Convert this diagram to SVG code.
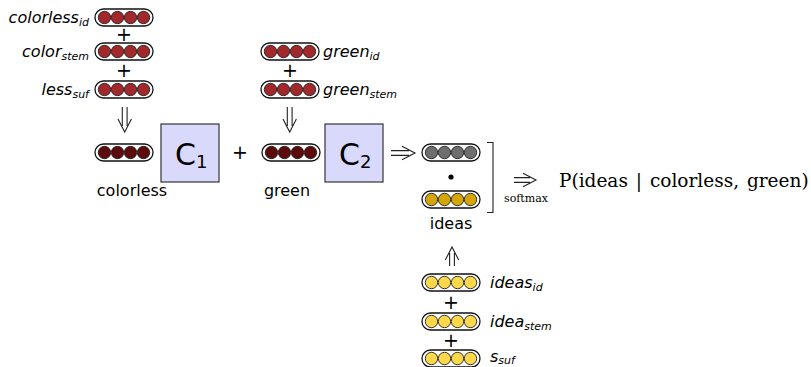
<svg xmlns="http://www.w3.org/2000/svg" xmlns:xlink="http://www.w3.org/1999/xlink" width="811" height="367" viewBox="0 0 811 367">
<style>
.pill{fill:#fff;stroke:#111;stroke-width:1.3}
.c{stroke:#222;stroke-width:0.9}
.red{fill:#a3282b}
.dark{fill:#5c0a0c}
.grey{fill:#6e6e6e}
.gold{fill:#d4a60a}
.yel{fill:#fcd84a}
.lab{font-family:"DejaVu Sans",sans-serif;font-size:16px;font-style:italic;fill:#000}
.sub{font-size:11px}
.plain{font-family:"DejaVu Sans",sans-serif;font-size:16px;fill:#000}
.plus{font-family:"DejaVu Sans",sans-serif;font-size:19px;fill:#000;text-anchor:middle}
.box{fill:#d9d9fc;stroke:#333;stroke-width:1.2}
.arr{fill:none;stroke:#222;stroke-width:1.1}
.serif{font-family:"DejaVu Serif",serif;fill:#000}
</style>
<defs>
<g id="vec">
<rect class="pill" x="0" y="0" width="58" height="17" rx="8.5"/>
</g>
<g id="dots">
<circle class="c" cx="9.5" cy="8.5" r="6.2"/>
<circle class="c" cx="22.5" cy="8.5" r="6.2"/>
<circle class="c" cx="35.5" cy="8.5" r="6.2"/>
<circle class="c" cx="48.5" cy="8.5" r="6.2"/>
</g>
</defs>

<g id="colorless_id">
<use xlink:href="#vec" x="95" y="9"/><use xlink:href="#dots" class="red" x="95" y="9"/>
<text class="lab" x="89" y="23" text-anchor="end">colorless<tspan class="sub" dy="3">id</tspan></text>
</g>
<text class="plus" x="124" y="41">+</text>
<g id="color_stem">
<use xlink:href="#vec" x="95" y="43"/><use xlink:href="#dots" class="red" x="95" y="43"/>
<text class="lab" x="89" y="57" text-anchor="end">color<tspan class="sub" dy="3">stem</tspan></text>
</g>
<text class="plus" x="124" y="77">+</text>
<g id="less_suf">
<use xlink:href="#vec" x="95" y="81"/><use xlink:href="#dots" class="red" x="95" y="81"/>
<text class="lab" x="89" y="95" text-anchor="end">less<tspan class="sub" dy="3">suf</tspan></text>
</g>

<g id="colorless">
<use xlink:href="#vec" x="95" y="144"/><use xlink:href="#dots" class="dark" x="95" y="144"/>
<text class="plain" x="132" y="196" text-anchor="middle">colorless</text>
</g>
<g id="C1">
<rect class="box" x="161" y="124" width="58" height="58"/>
<text x="175" y="165" font-family="DejaVu Sans,sans-serif" font-size="30">C<tspan font-size="18" dy="3">1</tspan></text>
</g>
<text class="plus" x="240" y="159">+</text>

<g id="green_id">
<use xlink:href="#vec" x="261" y="43"/><use xlink:href="#dots" class="red" x="261" y="43"/>
<text class="lab" x="323" y="57">green<tspan class="sub" dy="3">id</tspan></text>
</g>
<text class="plus" x="290" y="77">+</text>
<g id="green_stem">
<use xlink:href="#vec" x="261" y="81"/><use xlink:href="#dots" class="red" x="261" y="81"/>
<text class="lab" x="323" y="95">green<tspan class="sub" dy="3">stem</tspan></text>
</g>

<g id="green">
<use xlink:href="#vec" x="262" y="144"/><use xlink:href="#dots" class="dark" x="262" y="144"/>
<text class="plain" x="287" y="196" text-anchor="middle">green</text>
</g>
<g id="C2">
<rect class="box" x="325" y="124" width="58" height="58"/>
<text x="339" y="165" font-family="DejaVu Sans,sans-serif" font-size="30">C<tspan font-size="18" dy="3">2</tspan></text>
</g>

<g id="ideas_out">
<use xlink:href="#vec" x="422" y="144"/><use xlink:href="#dots" class="grey" x="422" y="144"/>
<circle cx="451" cy="177" r="2.6" fill="#000"/>
<use xlink:href="#vec" x="422" y="191"/><use xlink:href="#dots" class="gold" x="422" y="191"/>
<text class="plain" x="451" y="229" text-anchor="middle">ideas</text>
</g>

<g id="bracket">
<path class="arr" d="M487,142.5 H493 V212.5 H487" stroke-width="1.3"/>
</g>

<g id="ideas_id">
<use xlink:href="#vec" x="422" y="274"/><use xlink:href="#dots" class="yel" x="422" y="274"/>
<text class="lab" x="490" y="288">ideas<tspan class="sub" dy="3">id</tspan></text>
</g>
<text class="plus" x="451" y="309">+</text>
<g id="idea_stem">
<use xlink:href="#vec" x="422" y="313"/><use xlink:href="#dots" class="yel" x="422" y="313"/>
<text class="lab" x="490" y="327">idea<tspan class="sub" dy="3">stem</tspan></text>
</g>
<text class="plus" x="451" y="347">+</text>
<g id="s_suf">
<use xlink:href="#vec" x="422" y="350"/><use xlink:href="#dots" class="yel" x="422" y="350"/>
<text class="lab" x="490" y="362">s<tspan class="sub" dy="2">suf</tspan></text>
</g>

<g id="result">
<text class="serif" x="559" y="187" font-size="18.5" word-spacing="2">P(ideas | colorless, green)</text>
<text class="serif" x="526" y="202" font-size="11" text-anchor="middle">softmax</text>
</g>

<g id="connectors">
<path class="arr" d="M122.3,107 V126 M127.1,107 V126 M118,119 L124.7,132 L131.4,119"/>
<path class="arr" d="M287.3,107 V126 M292.1,107 V126 M283,119 L289.7,132 L296.4,119"/>
<path class="arr" d="M391,150.6 H409 M391,155.4 H409 M402,146.3 L415,153 L402,159.7"/>
<path class="arr" d="M514,177.6 H530 M514,182.4 H530 M523,173.3 L536,180 L523,186.7"/>
<path class="arr" d="M449.6,266 V253 M454.4,266 V253 M445.3,260 L452,247 L458.7,260"/>
</g>
</svg>
